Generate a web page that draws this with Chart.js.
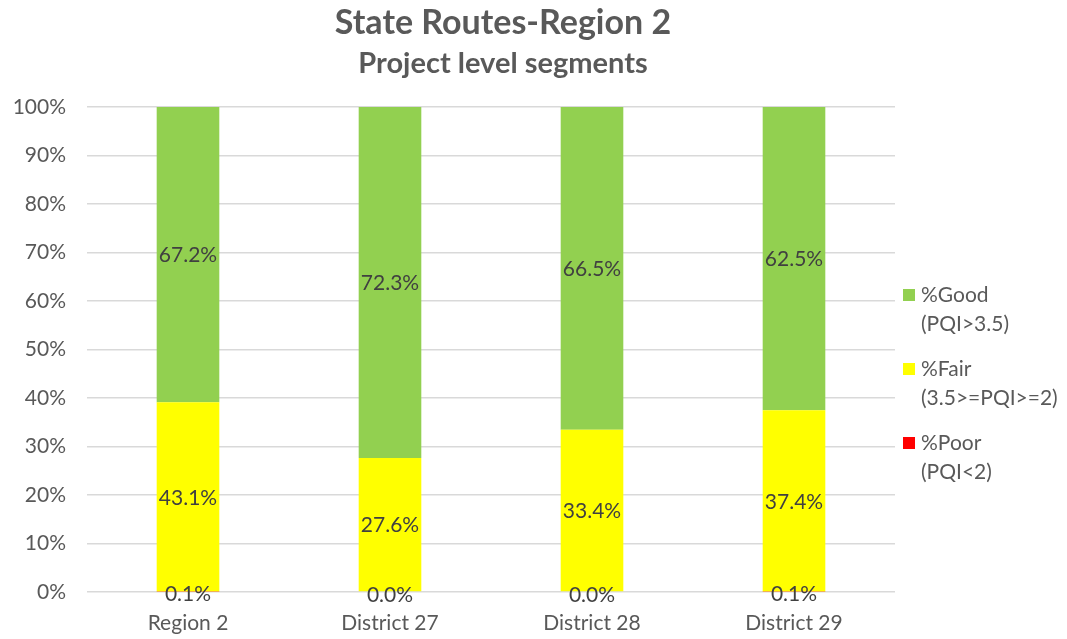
<!DOCTYPE html>
<html><head><meta charset="utf-8">
<script src="https://cdn.jsdelivr.net/npm/chart.js@4/dist/chart.umd.min.js"></script>
<style>html,body{margin:0;padding:0;background:#fff;}canvas{display:block;}</style>
</head><body>
<canvas id="c" width="1067" height="639"></canvas>
<script>
const categories = ['Region 2', 'District 27', 'District 28', 'District 29'];
const poorValues = [0.1, 0.0, 0.0, 0.1];
const fairValues = [43.1, 27.6, 33.4, 37.4];
const goodValues = [67.2, 72.3, 66.5, 62.5];
const yTicks = [0, 10, 20, 30, 40, 50, 60, 70, 80, 90, 100];
const legendLabels = [['%Good', '(PQI>3.5)'], ['%Fair', '(3.5>=PQI>=2)'], ['%Poor', '(PQI<2)']];

const FONT = 'Lato, "Open Sans", sans-serif';
const totals = categories.map((_, i) => poorValues[i] + fairValues[i] + goodValues[i]);
const pct = arr => arr.map((v, i) => totals[i] ? v / totals[i] * 100 : 0);

const colors = { good: '#92d050', fair: '#ffff00', poor: '#ff0000' };

const titlePlugin = {
  id: 'titles',
  afterDraw(chart) {
    const ctx = chart.ctx;
    ctx.save();
    ctx.fillStyle = '#595959';
    ctx.textAlign = 'center';
    ctx.textBaseline = 'middle';
    ctx.font = 'bold 34px ' + FONT;
    ctx.fillText('State Routes-Region 2', 503, 23);
    ctx.font = 'bold 29px ' + FONT;
    ctx.fillText('Project level segments', 503, 64);
    ctx.restore();
  }
};

const labelPlugin = {
  id: 'segLabels',
  afterDatasetsDraw(chart) {
    const ctx = chart.ctx;
    ctx.save();
    ctx.font = '21px ' + FONT;
    ctx.fillStyle = '#404040';
    ctx.textAlign = 'center';
    ctx.textBaseline = 'middle';
    chart.data.datasets.forEach((ds, di) => {
      const meta = chart.getDatasetMeta(di);
      meta.data.forEach((bar, i) => {
        const raw = ds.rawValues[i];
        const y = (bar.y + bar.base) / 2;
        ctx.fillText(raw.toFixed(1) + '%', bar.x, y + (di === 0 ? 3 : 1));
      });
    });
    ctx.restore();
  }
};

const legendPlugin = {
  id: 'sideLegend',
  afterDraw(chart) {
    const ctx = chart.ctx;
    const cols = [colors.good, colors.fair, colors.poor];
    ctx.save();
    ctx.font = '21px ' + FONT;
    ctx.textBaseline = 'middle';
    ctx.textAlign = 'left';
    legendLabels.forEach((lines, k) => {
      const y0 = 295 + k * 74;
      ctx.fillStyle = cols[k];
      ctx.fillRect(903, y0 - 6, 12, 12);
      ctx.fillStyle = '#595959';
      ctx.fillText(lines[0], 921, y0);
      ctx.fillText(lines[1], 921, y0 + 29);
    });
    ctx.restore();
  }
};

new Chart(document.getElementById('c'), {
  type: 'bar',
  data: {
    labels: categories,
    datasets: [
      { label: legendLabels[2].join(' '), data: pct(poorValues), rawValues: poorValues, backgroundColor: colors.poor },
      { label: legendLabels[1].join(' '), data: pct(fairValues), rawValues: fairValues, backgroundColor: colors.fair },
      { label: legendLabels[0].join(' '), data: pct(goodValues), rawValues: goodValues, backgroundColor: colors.good }
    ]
  },
  options: {
    responsive: false,
    animation: false,
    layout: { padding: { top: 107, right: 172, left: 0, bottom: 0 } },
    datasets: { bar: { categoryPercentage: 1, barPercentage: 0.31, borderWidth: 0 } },
    plugins: { legend: { display: false }, tooltip: { enabled: false }, title: { display: false } },
    scales: {
      x: {
        stacked: true,
        grid: { display: false, drawTicks: false },
        border: { display: false },
        ticks: { font: { family: FONT, size: 21 }, color: '#595959', padding: 19 },
        afterFit: s => { s.height = 47; }
      },
      y: {
        stacked: true,
        min: 0, max: 100,
        afterBuildTicks: s => { s.ticks = yTicks.map(v => ({ value: v })); },
        grid: { color: '#d9d9d9', lineWidth: 1.5, drawTicks: false },
        border: { display: false },
        ticks: { font: { family: FONT, size: 21 }, color: '#595959', padding: 21, callback: v => v + '%' },
        afterFit: s => { s.width = 87; }
      }
    }
  },
  plugins: [titlePlugin, labelPlugin, legendPlugin]
});
</script>
</body></html>
